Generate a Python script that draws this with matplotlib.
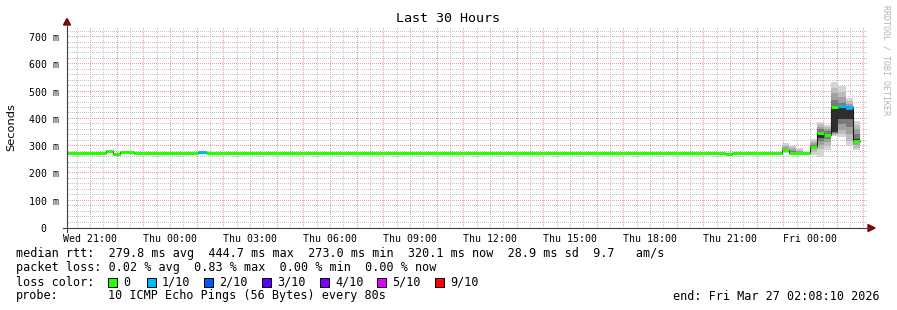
import matplotlib
matplotlib.use("Agg")
import matplotlib.pyplot as plt
import matplotlib.dates as mdates
import numpy as np
from matplotlib.patches import Rectangle, Polygon
from matplotlib.lines import Line2D
from datetime import datetime, timedelta

W, H = 897, 310
MONO = "DejaVu Sans Mono"

t_start = datetime(2026, 3, 25, 20, 8, 10)
t_end = datetime(2026, 3, 27, 2, 8, 10)
step = timedelta(minutes=16)
y_top = 737

# median rtt in ms, as runs: start of each run, value, lost pings (of 10)
median_start = ["2026-03-25 20:00", "2026-03-25 21:36", "2026-03-25 21:52",
                "2026-03-25 22:08", "2026-03-25 22:40", "2026-03-26 01:04",
                "2026-03-26 01:20", "2026-03-26 20:48", "2026-03-26 21:04",
                "2026-03-26 22:56", "2026-03-26 23:12", "2026-03-27 00:00",
                "2026-03-27 00:16", "2026-03-27 00:32", "2026-03-27 00:48",
                "2026-03-27 01:04", "2026-03-27 01:20", "2026-03-27 01:36"]
median_ms = [275, 283, 270, 279, 275, 277, 275, 273, 275,
             285, 275, 298, 348, 340, 443, 446, 443, 318]
median_loss = [0, 0, 0, 0, 0, 1, 0, 0, 0,
               0, 0, 0, 0, 0, 0, 1, 1, 0]
median_last = "2026-03-27 01:52"

# smoke: 10 sorted ping rtts (ms) per 16 minute bin
smoke_start = ["2026-03-26 01:20", "2026-03-26 22:56", "2026-03-26 23:12",
               "2026-03-26 23:28", "2026-03-27 00:00", "2026-03-27 00:16",
               "2026-03-27 00:32", "2026-03-27 00:48", "2026-03-27 01:04",
               "2026-03-27 01:20", "2026-03-27 01:36"]
smoke_pings = [
    [275, 275, 276, 276, 276, 277, 278, 279, 280, 281],
    [275, 277, 279, 282, 284, 287, 291, 296, 303, 311],
    [273, 274, 275, 275, 276, 279, 284, 290, 297, 302],
    [274, 275, 275, 275, 276, 277, 279, 283, 287, 292],
    [268, 280, 288, 293, 296, 301, 306, 312, 318, 326],
    [261, 290, 305, 318, 330, 350, 362, 372, 382, 390],
    [286, 300, 315, 328, 334, 346, 354, 362, 369, 377],
    [338, 341, 344, 347, 352, 440, 470, 495, 515, 536],
    [335, 345, 360, 380, 400, 440, 460, 480, 500, 522],
    [300, 320, 345, 370, 400, 432, 446, 456, 466, 477],
    [286, 295, 305, 312, 316, 325, 345, 362, 378, 392],
]

tick_times = ["2026-03-25 21:00", "2026-03-26 00:00", "2026-03-26 03:00",
              "2026-03-26 06:00", "2026-03-26 09:00", "2026-03-26 12:00",
              "2026-03-26 15:00", "2026-03-26 18:00", "2026-03-26 21:00",
              "2026-03-27 00:00"]
tick_labels = ["Wed 21:00", "Thu 00:00", "Thu 03:00", "Thu 06:00", "Thu 09:00",
               "Thu 12:00", "Thu 15:00", "Thu 18:00", "Thu 21:00", "Fri 00:00"]
y_ticks = [0, 100, 200, 300, 400, 500, 600, 700]
y_labels = ["0  ", "100 m", "200 m", "300 m", "400 m", "500 m", "600 m", "700 m"]

loss_labels = ["0", "1/10", "2/10", "3/10", "4/10", "5/10", "9/10"]
loss_colors = ["#26ff00", "#00b8ff", "#0059ff", "#5e00ff", "#7e00ff", "#dd00ff", "#ff0000"]

legend_lines = [
    "median rtt:  279.8 ms avg  444.7 ms max  273.0 ms min  320.1 ms now  28.9 ms sd  9.7   am/s",
    "packet loss: 0.02 % avg  0.83 % max  0.00 % min  0.00 % now",
]
probe_text = "10 ICMP Echo Pings (56 Bytes) every 80s"
end_text = "end: Fri Mar 27 02:08:10 2026"


def ts(s):
    return datetime.strptime(s, "%Y-%m-%d %H:%M")


fig = plt.figure(figsize=(W / 100, H / 100), dpi=100)
fig.patch.set_facecolor("white")
ax = fig.add_axes([67 / W, 1 - 228 / H, 800 / W, 201 / H])
ax.set_xlim(t_start, t_end)
ax.set_ylim(0, y_top)
ax.autoscale(False)
for s in ax.spines.values():
    s.set_visible(False)

# grid: dotted lines drawn as single pixels every 2 px
grey, red = "#c4c4c4", "#f09a9a"
x0n, x1n = mdates.date2num(t_start), mdates.date2num(t_end)
dots_y = np.arange(1, 201, 2) / 201 * y_top
dots_x = x0n + np.arange(1, 800, 2) / 800 * (x1n - x0n)
t = datetime(2026, 3, 25, 20, 30)
while t < t_end:
    ax.plot(np.full(len(dots_y), mdates.date2num(t)), dots_y, ls="none",
            marker=",", color=red if t.minute == 0 else grey, zorder=0)
    t += timedelta(minutes=30)
for v in range(20, y_top, 20):
    ax.plot(dots_x, np.full(len(dots_x), v), ls="none", marker=",",
            color=red if v % 100 == 0 else grey, zorder=0)

# smoke
shades = ["#d4d4d4", "#bcbcbc", "#a0a0a0", "#7a7a7a", "#2e2e2e",
          "#7a7a7a", "#a0a0a0", "#bcbcbc", "#d4d4d4"]
bw = step / timedelta(days=1)
for s0, pings in zip(smoke_start, smoke_pings):
    xb = mdates.date2num(ts(s0))
    for k in range(9):
        ax.bar(xb, pings[k + 1] - pings[k], bottom=pings[k], width=bw,
               align="edge", color=shades[k], linewidth=0, zorder=2)

# median: thin dark step underneath, coloured runs on top
xs = [ts(s) for s in median_start] + [ts(median_last)]
ys = median_ms + [median_ms[-1]]
ax.step(xs, ys, where="post", color="#202020", lw=0.8, zorder=3)
for i, loss in enumerate(median_loss):
    ax.hlines(median_ms[i], xs[i], xs[i + 1], color=loss_colors[loss],
              lw=2.2, zorder=4)

# ticks
ax.set_xticks([ts(s) for s in tick_times], tick_labels)
ax.set_yticks(y_ticks, y_labels)
ax.tick_params(length=0, labelsize=7.1, labelcolor="#000000")
ax.tick_params(axis="x", pad=4)
ax.tick_params(axis="y", pad=6)
for lab in ax.get_xticklabels() + ax.get_yticklabels():
    lab.set_family(MONO)
ax.set_xlim(t_start, t_end)
ax.set_ylim(0, y_top)

# axes lines and arrows
def px(x, y):
    return (x / W, 1 - y / H)

fig.add_artist(Line2D([63 / W, 870 / W], [1 - 228 / H, 1 - 228 / H],
                      color="#404040", lw=0.8))
fig.add_artist(Line2D([67 / W, 67 / W], [1 - 232 / H, 1 - 22 / H],
                      color="#404040", lw=0.8))
fig.add_artist(Polygon([px(868, 224.5), px(875, 228), px(868, 231.5)],
                       closed=True, color="#7f0000"))
fig.add_artist(Polygon([px(63.5, 25), px(67, 18.5), px(70.5, 25)],
                       closed=True, color="#7f0000"))

# texts
def ftext(x, y, s, **kw):
    fig.text(x / W, 1 - y / H, s, **kw)

ftext(448, 19, "Last 30 Hours", family=MONO, fontsize=9.6, ha="center", va="center")
ftext(11, 127, "Seconds", fontsize=8.2, rotation=90, ha="center", va="center")
ftext(886, 5, "RRDTOOL / TOBI OETIKER", family=MONO, fontsize=6, rotation=270,
      ha="center", va="top", color="#b4b4b4")

ftext(16, 254, legend_lines[0], family=MONO, fontsize=8.5, va="center")
ftext(16, 268, legend_lines[1], family=MONO, fontsize=8.5, va="center")
ftext(16, 282, "loss color:", family=MONO, fontsize=8.5, va="center")
box_x = [108, 147, 204, 262, 320, 377, 435]
for bx, lab, col in zip(box_x, loss_labels, loss_colors):
    fig.add_artist(Rectangle(px(bx, 286.5), 9 / W, 9 / H, facecolor=col,
                             edgecolor="black", lw=0.7))
    ftext(bx + 15, 282, lab, family=MONO, fontsize=8.5, va="center")
ftext(16, 296, "probe:", family=MONO, fontsize=8.5, va="center")
ftext(108, 296, probe_text, family=MONO, fontsize=8.5, va="center")
ftext(880, 296, end_text, family=MONO, fontsize=8.5, va="center", ha="right")

fig.savefig("out.png", dpi=100, facecolor="white")
